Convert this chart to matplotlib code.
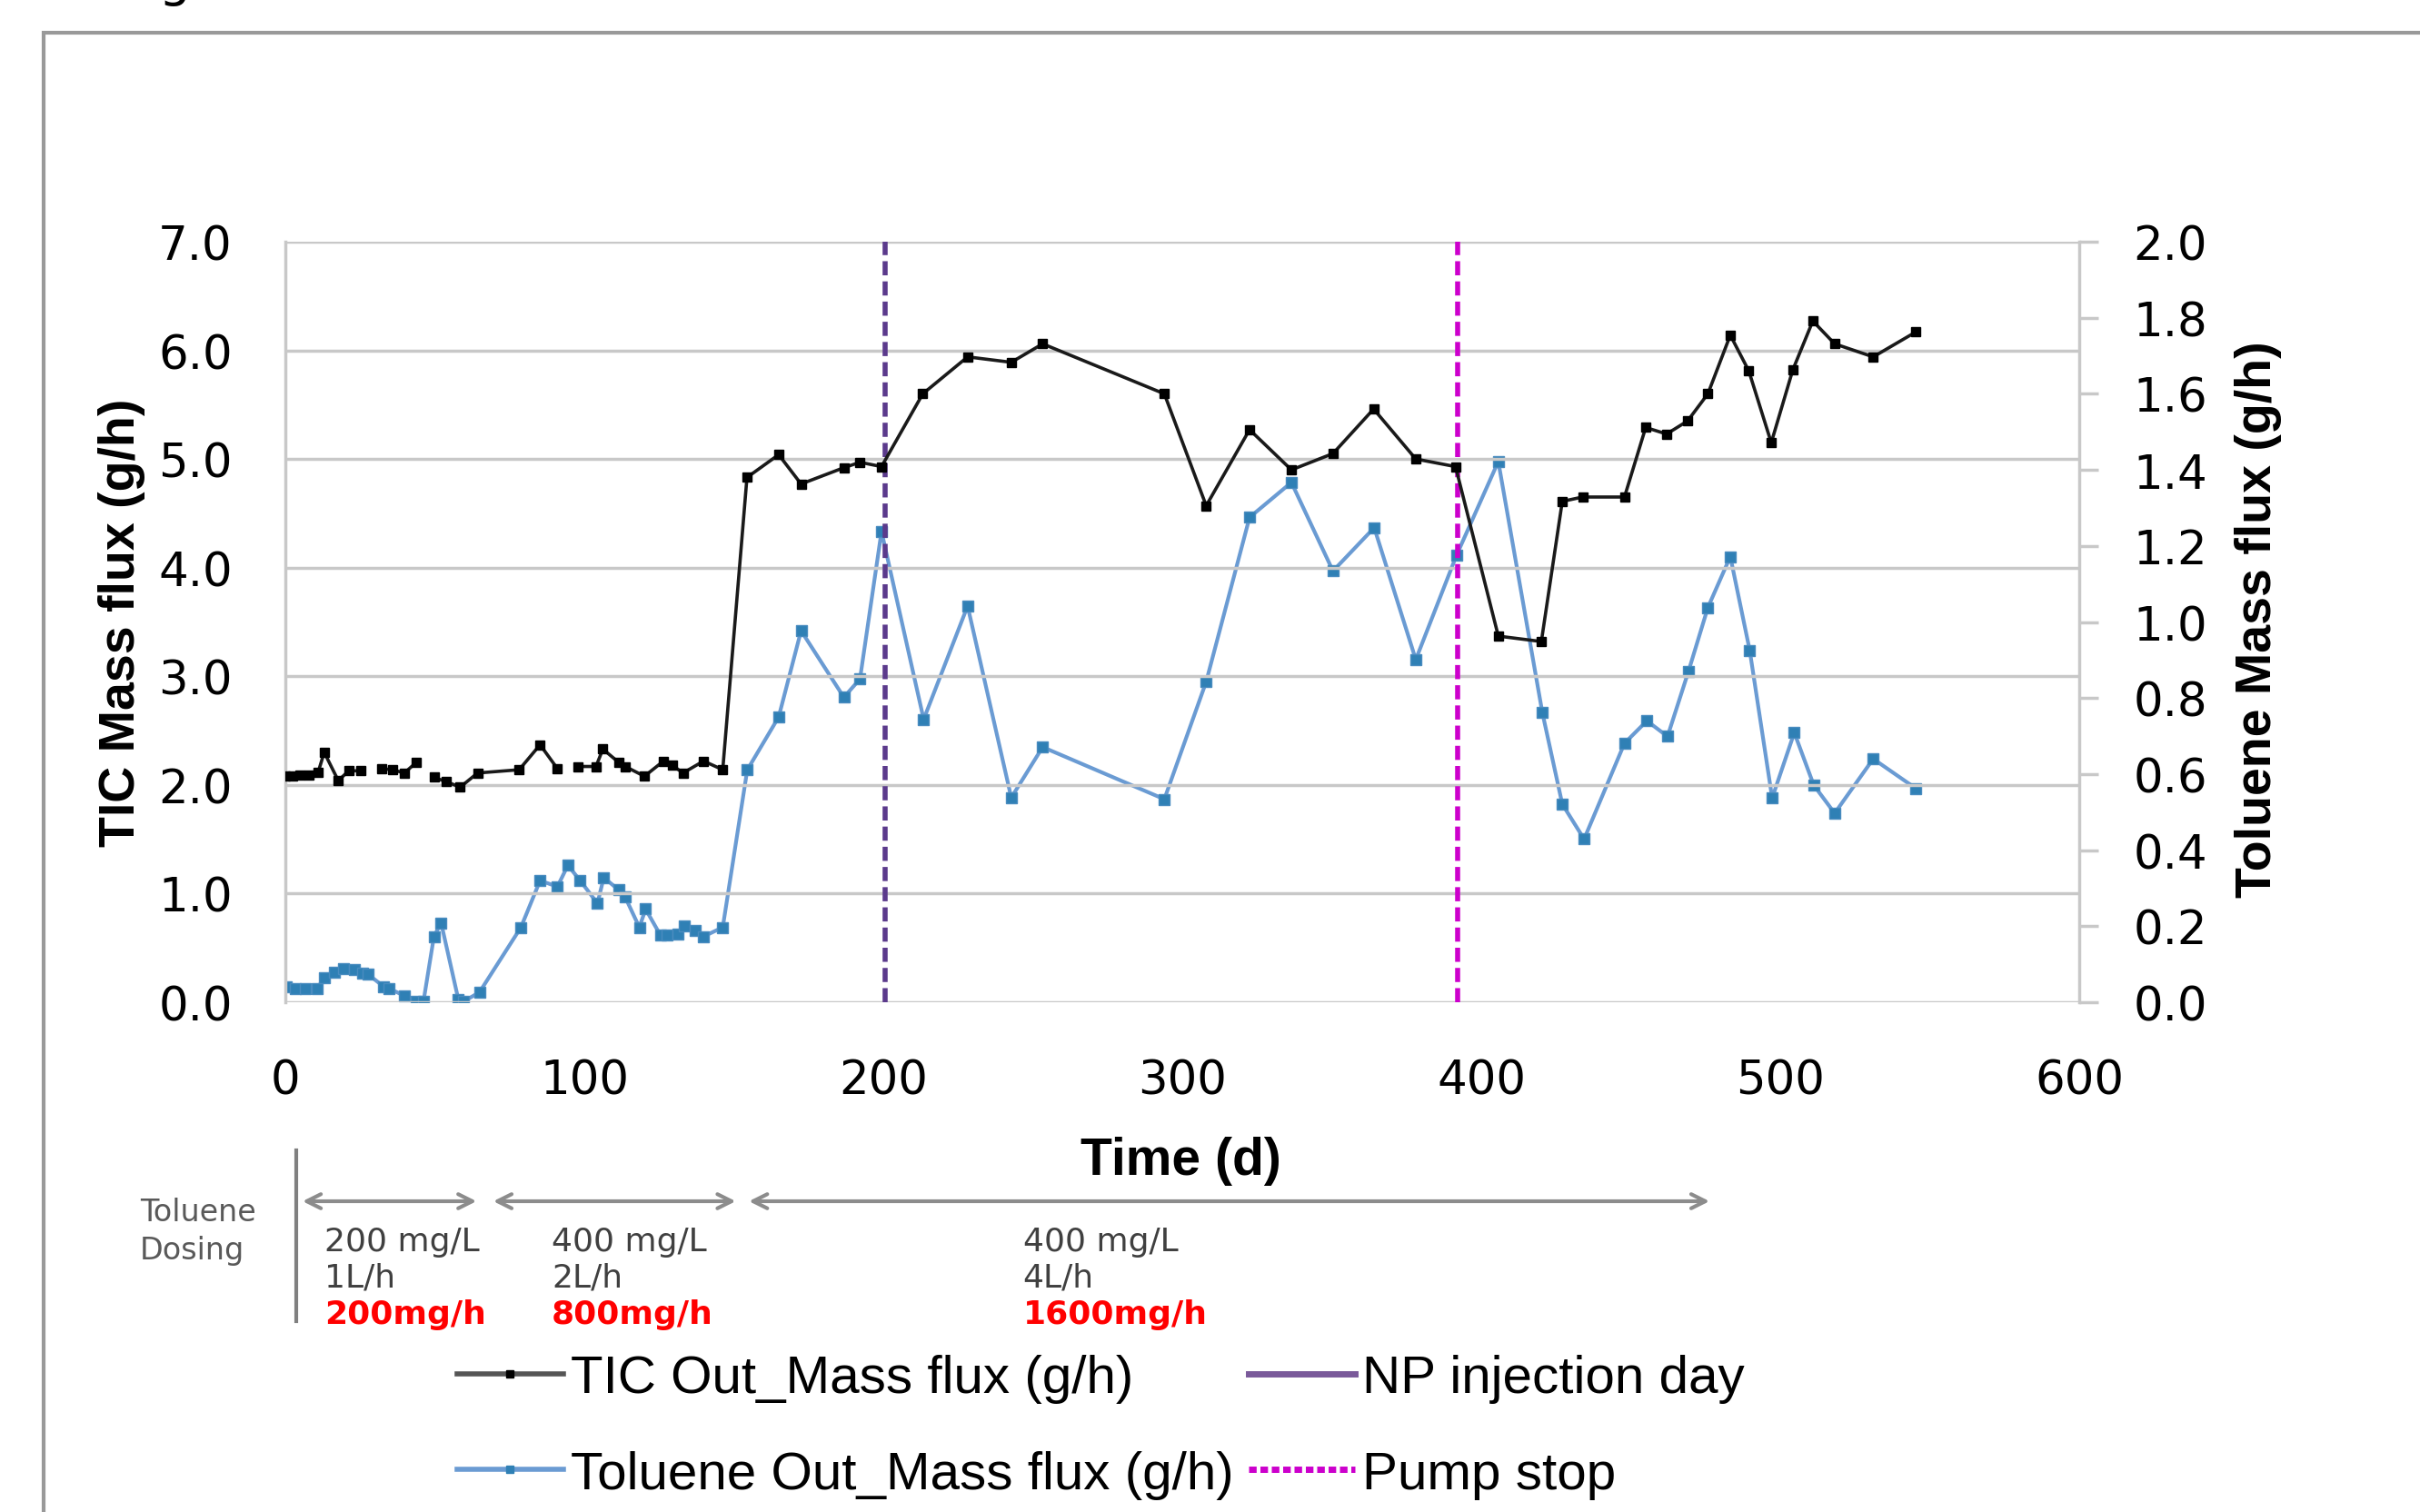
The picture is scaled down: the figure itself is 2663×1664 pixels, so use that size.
import numpy as np
import matplotlib.pyplot as plt
from matplotlib.lines import Line2D
from matplotlib.patches import Rectangle
from matplotlib.font_manager import FontProperties

nan = np.nan

# TIC outlet mass flux (left axis, g/h); NaN = gap in the record
tic_day = [0, 2.5, 5, 8, 11, 13, 17.7, 21.2, 25.3, nan, 32.3, 35.8, 39.8, 43.9, nan,
           49.7, 53.8, 58.5, 64.3, 78.2, 85.2, 91.0, nan, 98.0, 103.9, 106.2, 111.4,
           113.7, 120.1, 126.5, 129.5, 133.0, 139.9, 146.3, 154.4, 165.0, 172.5, 186.8,
           192.2, 199.4, 213.2, 228.2, 242.8, 253.3, 294.0, 308.0, 322.5, 336.5, 350.4,
           364.0, 378.1, 391.4, 405.7, 420.1, 427.1, 433.9, 447.9, 455.0, 462.0, 469.0,
           475.8, 483.3, 489.5, 497.0, 504.2, 510.9, 518.2, 531.1, 545.4]
tic_flux = [2.08, 2.08, 2.09, 2.09, 2.12, 2.30, 2.04, 2.13, 2.13, nan, 2.15, 2.14, 2.11, 2.21, nan,
            2.07, 2.03, 1.98, 2.11, 2.14, 2.37, 2.15, nan, 2.17, 2.17, 2.33, 2.21,
            2.17, 2.08, 2.22, 2.18, 2.11, 2.22, 2.14, 4.83, 5.04, 4.77, 4.92,
            4.97, 4.93, 5.60, 5.94, 5.89, 6.06, 5.60, 4.57, 5.27, 4.90, 5.05,
            5.46, 5.00, 4.93, 3.37, 3.32, 4.61, 4.65, 4.65, 5.29, 5.23, 5.35,
            5.60, 6.14, 5.81, 5.15, 5.82, 6.27, 6.06, 5.94, 6.17]

# Toluene outlet mass flux (right axis, g/h)
tol_day = [0.3, 3.2, 6.7, 10.7, 13.1, 16.5, 19.5, 23.0, 25.9, 27.6, 32.9, 34.5, 39.8, 43.9,
           46.2, 49.7, 52.1, 57.9, 59.6, 64.9, 78.8, 85.2, 91.0, 94.5, 98.6, 104.4, 106.5,
           111.4, 113.7, 118.4, 120.5, 125.4, 127.7, 131.2, 133.5, 137.0, 139.9, 146.3,
           154.5, 165.0, 172.5, 186.8, 192.2, 199.4, 213.5, 228.2, 242.8, 253.3, 294.0,
           308.0, 322.5, 336.5, 350.4, 364.2, 378.1, 391.7, 405.7, 420.4, 427.1, 434.4,
           447.9, 455.4, 462.3, 469.3, 475.8, 483.3, 489.8, 497.3, 504.7, 511.2, 518.2,
           531.1, 545.4]
tol_flux = [0.041, 0.037, 0.037, 0.037, 0.065, 0.080, 0.089, 0.085, 0.077, 0.074, 0.041, 0.037,
            0.017, 0.002, 0.002, 0.173, 0.209, 0.006, 0.002, 0.026, 0.197, 0.320, 0.304, 0.360,
            0.320, 0.260, 0.328, 0.296, 0.276, 0.197, 0.245, 0.177, 0.177, 0.180, 0.200, 0.188,
            0.173, 0.197, 0.611, 0.750, 0.977, 0.802, 0.850, 1.238, 0.744, 1.042, 0.538, 0.671,
            0.534, 0.843, 1.275, 1.367, 1.134, 1.248, 0.901, 1.175, 1.422, 0.763, 0.521, 0.429,
            0.681, 0.740, 0.699, 0.870, 1.038, 1.172, 0.925, 0.537, 0.709, 0.571, 0.497, 0.640,
            0.562]

np_day = 200.5
pump_day = 392

# toluene dosing periods (days) and labels
dose_start = [4.9, 68.7, 154.2]
dose_end = [64.8, 151.5, 477.2]
dose_text_day = [13.1, 89.1, 246.7]
dose_conc = ['200 mg/L', '400 mg/L', '400 mg/L']
dose_flow = ['1L/h', '2L/h', '4L/h']
dose_load = ['200mg/h', '800mg/h', '1600mg/h']

narrow = ['Liberation Sans', 'DejaVu Sans']
plt.rcParams['font.family'] = ['DejaVu Sans']

W, H = 2663, 1665
fig = plt.figure(figsize=(W / 100, H / 100), dpi=100)
ax = fig.add_axes([314 / W, 1 - 1104 / H, (2288 - 314) / W, (1104 - 267) / H])
ax2 = ax.twinx()

grid_c = '#C8C8C8'
ax.set_xlim(0, 600)
ax.set_ylim(0, 7)
ax2.set_ylim(0, 2)
ax.set_xticks(np.arange(0, 601, 100))
ax.set_yticks(np.arange(0, 7.01, 1.0))
ax.set_yticklabels([f'{v:.1f}' for v in np.arange(0, 7.01, 1.0)])
ax2.set_yticks(np.arange(0, 2.01, 0.2))
ax2.set_yticklabels([f'{v:.1f}' for v in np.arange(0, 2.01, 0.2)])
ax.grid(axis='y', color=grid_c, lw=2.5)
ax.set_axisbelow(True)
for a in (ax, ax2):
    for s in ('top', 'bottom'):
        a.spines[s].set_visible(False)
    a.spines['left'].set_color(grid_c)
    a.spines['right'].set_color(grid_c)
    a.spines['left'].set_linewidth(2.5)
    a.spines['right'].set_linewidth(2.5)
ax.spines['right'].set_visible(False)
ax2.spines['left'].set_visible(False)
ax.tick_params(axis='x', length=0, pad=44, labelsize=37)
ax.tick_params(axis='y', length=0, pad=42, labelsize=37)
ax2.tick_params(axis='y', length=15, width=2.5, color=grid_c, pad=28, labelsize=37)

ax.set_xlabel('Time (d)', fontproperties=FontProperties(family=narrow, size=41, weight='bold'), va='center')
ax.xaxis.set_label_coords((1299 - 314) / 1974, (1104 - 1278) / 837)
ax.set_ylabel('TIC Mass flux (g/h)', fontproperties=FontProperties(family=narrow, size=40, weight='bold'), va='center')
ax.yaxis.set_label_coords((134 - 314) / 1974, 0.5)
ax2.set_ylabel('Toluene Mass flux (g/h)', fontproperties=FontProperties(family=narrow, size=40, weight='bold'), va='center')
ax2.yaxis.set_label_coords((2485 - 314) / 1974, 0.505)

tol_line, = ax2.plot(tol_day, tol_flux, color='#6A9BD3', lw=3.0, marker='s', ms=8,
                     mfc='#2F80B5', mec='#4A8CC0', zorder=3)
tic_line, = ax.plot(tic_day, tic_flux, color='#1A1A1A', lw=2.6, marker='s', ms=7,
                    mfc='black', mec='black', zorder=4)
ax.set_zorder(ax2.get_zorder() + 1)
ax.patch.set_visible(False)
ax.axvline(np_day, color='#5B3A8C', lw=4.0, ls=(0, (2.8, 1.2)), zorder=2)
ax.axvline(pump_day, color='#CC00CC', lw=4.0, ls=(0, (2.8, 1.2)), zorder=2)

# dosing annotation below the axis
arrow_y = 1 - 1323 / H
for x0, x1 in zip(dose_start, dose_end):
    ax.annotate('', xy=(x1, arrow_y), xytext=(x0, arrow_y), xycoords=('data', 'figure fraction'),
                textcoords=('data', 'figure fraction'), annotation_clip=False,
                arrowprops=dict(arrowstyle='<->', color='#8C8C8C', lw=3, mutation_scale=28))
for xd, c, f, l in zip(dose_text_day, dose_conc, dose_flow, dose_load):
    for txt, yy, col, wt in ((c, 1367, '#404040', 'normal'), (f, 1407, '#404040', 'normal'),
                             (l, 1447, '#FF0000', 'bold')):
        ax.annotate(txt, xy=(xd, 1 - yy / H), xycoords=('data', 'figure fraction'),
                    ha='left', va='center', fontsize=26, color=col, weight=wt,
                    annotation_clip=False)
fig.add_artist(Line2D([326 / W, 326 / W], [1 - 1267 / H, 1 - 1455 / H], color='#808080', lw=3))
fig.text(154 / W, 1 - 1335 / H, 'Toluene', ha='left', va='center', fontsize=24, color='#595959')
fig.text(154 / W, 1 - 1377 / H, 'Dosing', ha='left', va='center', fontsize=24, color='#595959')

# legend
handles = [Line2D([], [], color='#555555', lw=4, marker='s', ms=6, mfc='black', mec='black'),
           Line2D([], [], color='#6A9BD3', lw=4, marker='s', ms=6, mfc='#2F80B5', mec='#2F80B5'),
           Line2D([], [], color='#7A5A9A', lw=5),
           Line2D([], [], color='#CC00CC', lw=5, ls=(0, (1.2, 0.6)))]
labels = ['TIC Out_Mass flux (g/h)', 'Toluene Out_Mass flux (g/h)', 'NP injection day', 'Pump stop']
fig.legend(handles, labels, ncol=2, loc='upper left', bbox_to_anchor=(503 / W, 1 - 1491 / H),
           frameon=False, prop=FontProperties(family=narrow, size=42), handlelength=2.0,
           handletextpad=0.14, columnspacing=0.29, labelspacing=0.89, borderpad=0,
           borderaxespad=0)

# outer frame and clipped caption letter
fig.add_artist(Rectangle((48 / W, -0.1), 1.0, 1 - 37 / H + 0.1, transform=fig.transFigure,
                         fill=False, ec='#999999', lw=3))
fig.text(193 / W, 1.003, 'g', ha='center', va='baseline', fontsize=40)

fig.savefig('out.png', dpi=100)
